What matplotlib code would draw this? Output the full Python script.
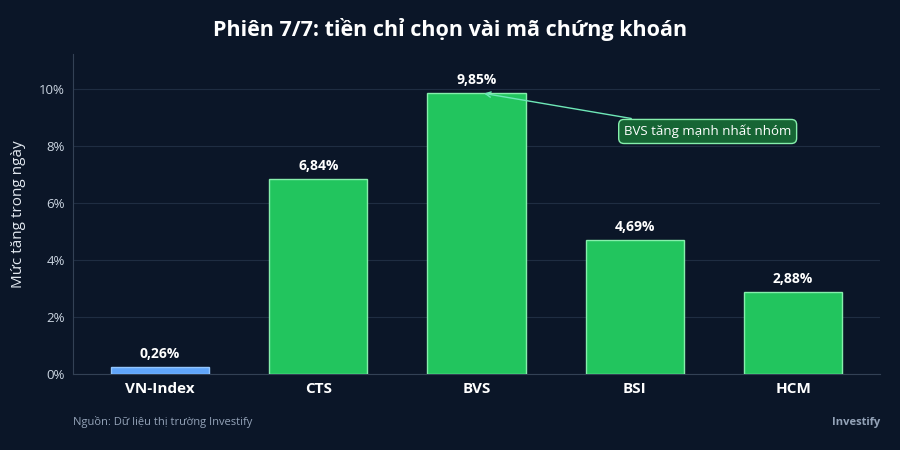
import matplotlib
matplotlib.use("Agg")
import matplotlib.pyplot as plt
from matplotlib.ticker import FuncFormatter

# Data
tickers = ["VN-Index", "CTS", "BVS", "BSI", "HCM"]
gains = [0.26, 6.84, 9.85, 4.69, 2.88]
labels = ["0,26%", "6,84%", "9,85%", "4,69%", "2,88%"]

BG = "#0b1628"
GREEN = "#22c55e"
BLUE = "#60a5fa"

plt.rcParams["font.family"] = ["Open Sans", "DejaVu Sans"]

fig = plt.figure(figsize=(9, 4.5), dpi=100, facecolor=BG)
ax = fig.add_axes([0.081, 0.169, 0.897, 0.71])
ax.set_facecolor(BG)

colors = [BLUE] + [GREEN] * (len(tickers) - 1)
edges = ["#93c5fd"] + ["#86efac"] * (len(tickers) - 1)
bars = ax.bar(range(len(tickers)), gains, width=0.62, color=colors,
              edgecolor=edges, linewidth=1.0, zorder=3)

for b, lab in zip(bars, labels):
    ax.text(b.get_x() + b.get_width() / 2, b.get_height() + 0.2, lab,
            ha="center", va="bottom", color="white", fontsize=10,
            fontweight="bold", zorder=4)

ax.set_xlim(-0.55, 4.55)
ax.set_ylim(0, 11.2)
ax.set_yticks([0, 2, 4, 6, 8, 10])
ax.yaxis.set_major_formatter(FuncFormatter(lambda v, p: f"{v:.0f}%"))
ax.set_xticks(range(len(tickers)))
ax.set_xticklabels(tickers, fontsize=11, fontweight="bold", color="white")
ax.tick_params(axis="y", colors="#cbd5e1", labelsize=9.5, length=0, pad=6)
ax.tick_params(axis="x", length=0, pad=6)
ax.grid(axis="y", color="#1f2d42", linewidth=0.8, zorder=0)
for s in ["top", "right"]:
    ax.spines[s].set_visible(False)
for s in ["left", "bottom"]:
    ax.spines[s].set_color("#334155")
ax.set_ylabel("Mức tăng trong ngày", color="#e2e8f0", fontsize=11, labelpad=9)

ax.annotate("BVS tăng mạnh nhất nhóm", xy=(2.03, 9.85), xytext=(3.46, 8.5),
            ha="center", va="center", color="white", fontsize=9.5,
            bbox=dict(boxstyle="round,pad=0.4", fc="#166534", ec="#86efac", lw=1),
            arrowprops=dict(arrowstyle="->", color="#6ee7b7", lw=1), zorder=5)

fig.text(0.5, 0.935, "Phiên 7/7: tiền chỉ chọn vài mã chứng khoán", ha="center",
         va="center", color="white", fontsize=15.5, fontweight="bold")
fig.text(0.081, 0.062, "Nguồn: Dữ liệu thị trường Investify", ha="left",
         va="center", color="#94a3b8", fontsize=8)
fig.text(0.978, 0.062, "Investify", ha="right", va="center",
         color="#94a3b8", fontsize=8, fontweight="bold")

fig.savefig("out.png", dpi=100, facecolor=BG)
